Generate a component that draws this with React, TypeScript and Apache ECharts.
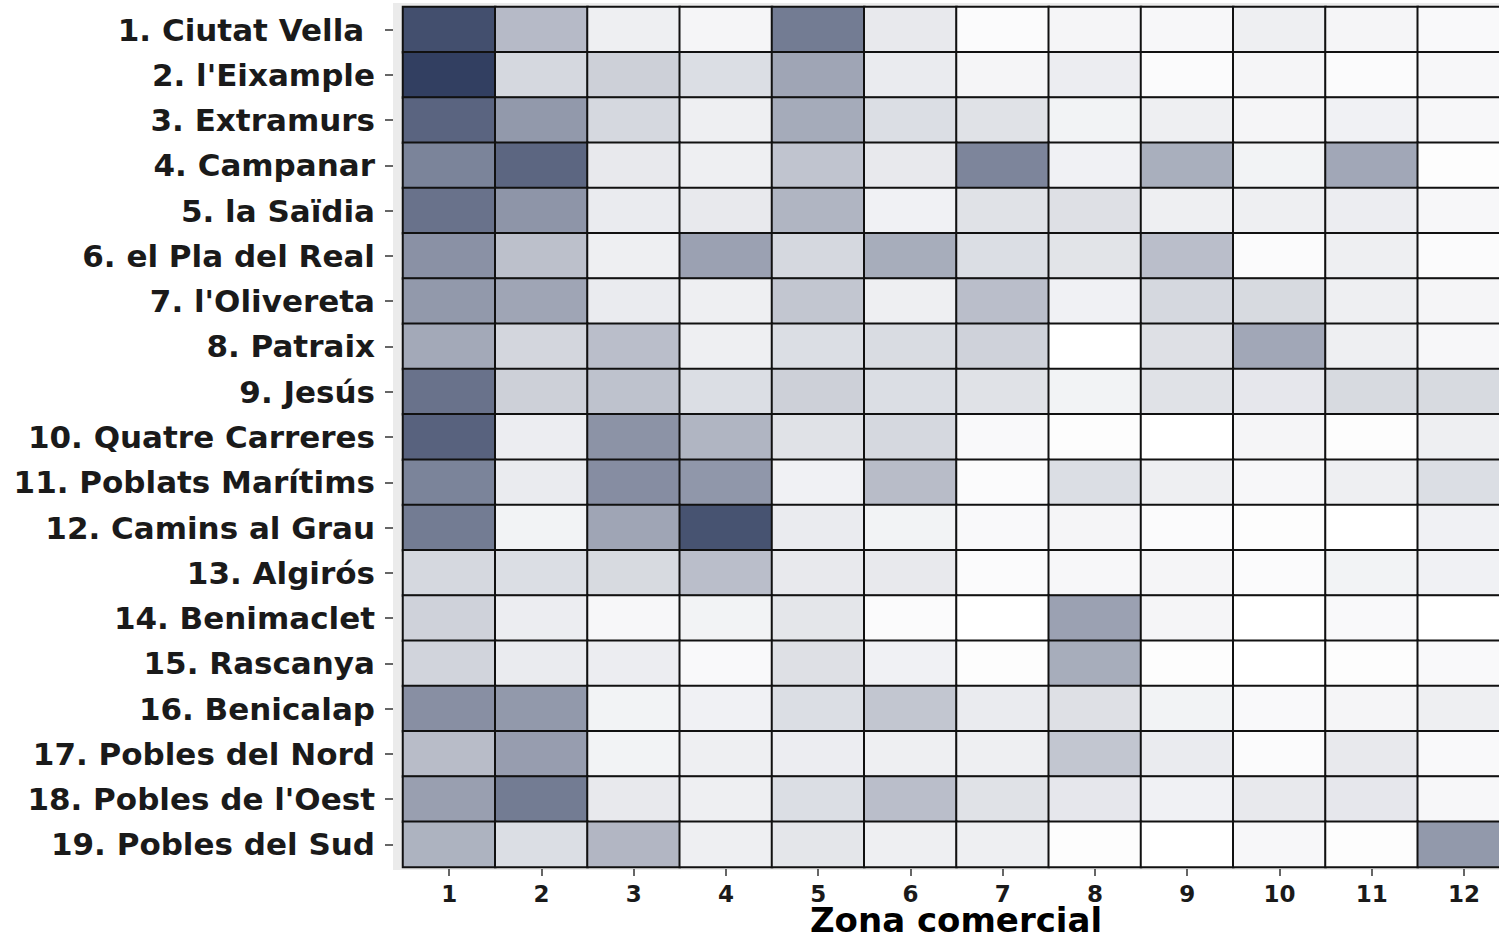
import React, { useEffect, useRef } from "react";
import * as echarts from "echarts";

const zones = ["1", "2", "3", "4", "5", "6", "7", "8", "9", "10", "11", "12"];

const districts = [
  "1. Ciutat Vella ",
  "2. l'Eixample",
  "3. Extramurs",
  "4. Campanar",
  "5. la Saïdia",
  "6. el Pla del Real",
  "7. l'Olivereta",
  "8. Patraix",
  "9. Jesús",
  "10. Quatre Carreres",
  "11. Poblats Marítims",
  "12. Camins al Grau",
  "13. Algirós",
  "14. Benimaclet",
  "15. Rascanya",
  "16. Benicalap",
  "17. Pobles del Nord",
  "18. Pobles de l'Oest",
  "19. Pobles del Sud",
];

const xTitle = "Zona comercial";

// intensity per district (rows) and commercial zone (columns)
const shareByDistrict: number[][] = [
  [90, 35, 8, 5, 67, 11, 2, 5, 4, 8, 5, 3],
  [98, 20, 24, 17, 46, 10, 5, 9, 2, 5, 2, 4],
  [79, 52, 20, 8, 43, 17, 15, 6, 8, 5, 7, 4],
  [63, 78, 11, 8, 30, 11, 62, 7, 41, 6, 45, 1],
  [72, 54, 10, 11, 38, 7, 15, 16, 8, 8, 9, 4],
  [56, 32, 8, 48, 20, 42, 17, 14, 33, 2, 8, 2],
  [52, 46, 10, 8, 29, 8, 33, 7, 20, 19, 8, 5],
  [44, 21, 33, 8, 17, 18, 23, 0, 16, 45, 8, 4],
  [72, 24, 31, 17, 24, 17, 15, 6, 15, 12, 19, 19],
  [80, 9, 55, 38, 15, 20, 3, 1, 0, 5, 1, 8],
  [63, 10, 58, 53, 7, 34, 2, 17, 8, 4, 8, 17],
  [67, 6, 46, 88, 10, 6, 3, 5, 2, 1, 0, 7],
  [20, 17, 19, 33, 11, 11, 2, 4, 5, 2, 6, 7],
  [23, 9, 4, 6, 13, 2, 0, 48, 5, 0, 3, 0],
  [22, 10, 9, 3, 16, 7, 1, 42, 1, 0, 1, 3],
  [57, 52, 6, 7, 17, 29, 10, 16, 6, 3, 5, 8],
  [34, 50, 6, 8, 9, 8, 8, 29, 10, 2, 11, 3],
  [49, 67, 11, 8, 17, 33, 15, 12, 7, 11, 12, 4],
  [39, 17, 37, 8, 13, 8, 8, 1, 0, 4, 1, 52],
];

const FONT = "DejaVu Sans";

export default function App() {
  const ref = useRef<HTMLDivElement>(null);

  useEffect(() => {
    if (!ref.current) return;
    const chart = echarts.init(ref.current, null, { renderer: "svg" });

    const data: [number, number, number][] = [];
    shareByDistrict.forEach((row, yi) => {
      row.forEach((v, xi) => data.push([xi, yi, v]));
    });

    chart.setOption({
      animation: false,
      backgroundColor: "#ffffff",
      graphic: [
        {
          type: "rect",
          z: -10,
          silent: true,
          shape: { x: 393, y: 3, width: 1130, height: 867 },
          style: { fill: "#ebebeb" },
        },
        {
          type: "text",
          silent: true,
          x: 956,
          y: 920,
          style: {
            text: xTitle,
            fontFamily: FONT,
            fontWeight: "bold",
            fontSize: 34,
            fill: "#000000",
            align: "center",
            verticalAlign: "middle",
          },
        },
      ],
      grid: {
        left: 403,
        top: 7,
        width: 1107,
        height: 860,
        containLabel: false,
        outerBoundsMode: "none",
      },
      xAxis: {
        type: "category",
        data: zones,
        position: "bottom",
        offset: 2,
        axisLine: { show: false },
        axisTick: {
          show: true,
          alignWithLabel: true,
          length: 7,
          lineStyle: { color: "#333333", width: 1.5 },
        },
        axisLabel: {
          margin: 13,
          fontFamily: FONT,
          fontWeight: "bold",
          fontSize: 23,
          color: "#1a1a1a",
        },
        splitLine: { show: false },
      },
      yAxis: {
        type: "category",
        data: districts,
        inverse: true,
        offset: 10,
        axisLine: { show: false },
        axisTick: {
          show: true,
          alignWithLabel: true,
          length: 8,
          lineStyle: { color: "#333333", width: 1.5 },
        },
        axisLabel: {
          margin: 18,
          fontFamily: FONT,
          fontWeight: "bold",
          fontSize: 31,
          color: "#1a1a1a",
        },
        splitLine: { show: false },
      },
      visualMap: {
        show: false,
        type: "continuous",
        min: 0,
        max: 100,
        dimension: 2,
        inRange: { color: ["#ffffff", "#2e3b5e"] },
      },
      series: [
        {
          type: "heatmap",
          data,
          itemStyle: { borderColor: "#111111", borderWidth: 2 },
          emphasis: { disabled: true },
        },
      ],
    });

    return () => chart.dispose();
  }, []);

  return (
    <div
      style={{
        position: "fixed",
        left: 0,
        top: 0,
        width: 1499,
        height: 943,
        overflow: "hidden",
        background: "#ffffff",
      }}
    >
      <div ref={ref} style={{ width: 1530, height: 943 }} />
    </div>
  );
}
